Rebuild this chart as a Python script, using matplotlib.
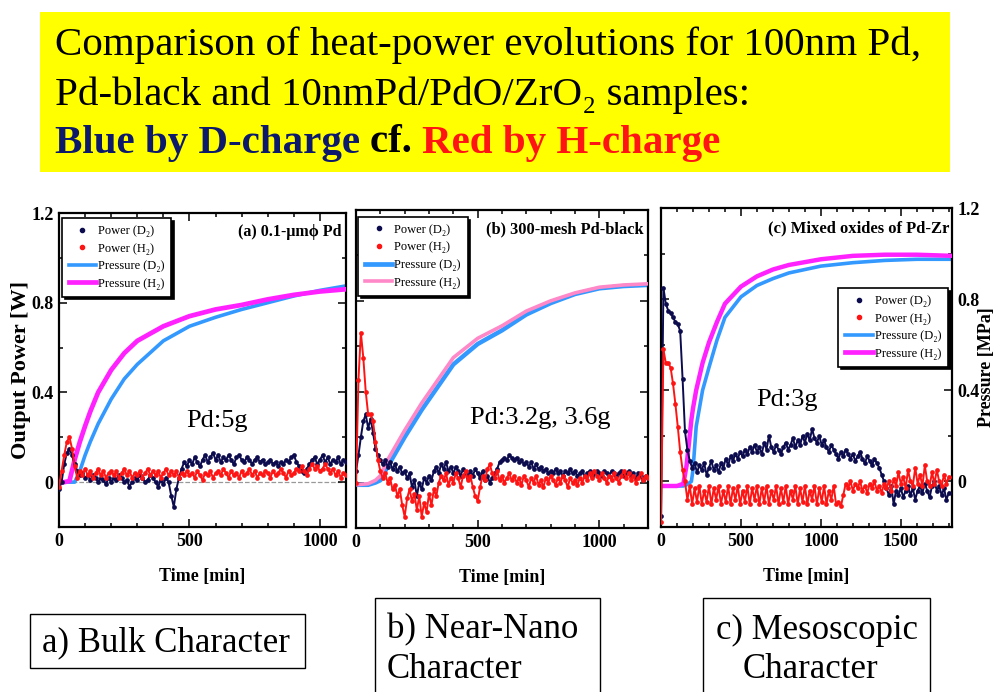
import numpy as np
import matplotlib
matplotlib.use("Agg")
import matplotlib.pyplot as plt
from matplotlib.patches import Rectangle
from matplotlib.lines import Line2D
from matplotlib.ticker import MultipleLocator

plt.rcParams['font.family'] = ['Liberation Serif', 'DejaVu Serif']

# ---------------- data ----------------
# Panel (a) 0.1-um Pd : power sampled every 10 min, 0..1100
a_step = 10
a_power_D2 = [
    -0.03, 0.0, 0.08, 0.13, 0.15, 0.12, 0.08, 0.05, 0.03, 0.04,
    0.02, 0.03, 0.01, 0.03, 0.02, 0.0, 0.02, 0.01, -0.01, 0.02,
    0.0, 0.02, 0.01, 0.03, 0.02, 0.0, 0.01, -0.02, 0.0, 0.02,
    0.01, 0.03, 0.02, 0.0, 0.01, 0.03, 0.02, 0.0, -0.02, 0.01,
    -0.01, 0.02, 0.0, -0.06, -0.11, -0.03, 0.02, 0.06, 0.09, 0.07,
    0.1, 0.08, 0.11, 0.09, 0.07, 0.1, 0.12, 0.09, 0.11, 0.13,
    0.1, 0.12, 0.09, 0.11, 0.1, 0.12, 0.1, 0.08, 0.11, 0.12,
    0.1, 0.09, 0.11, 0.1, 0.08, 0.1, 0.11, 0.09, 0.1, 0.08,
    0.09, 0.1, 0.08, 0.09, 0.07, 0.09, 0.08, 0.1, 0.09, 0.11,
    0.12, 0.09, 0.07, 0.05, 0.04, 0.06, 0.08, 0.1, 0.11, 0.08,
    0.1, 0.12, 0.09, 0.11, 0.08, 0.1, 0.09, 0.11, 0.08, 0.1, 0.09]
a_power_H2 = [
    -0.02, 0.05, 0.12, 0.18, 0.2, 0.15, 0.07, 0.02, 0.05, 0.03,
    0.06, 0.03, 0.05, 0.02, 0.04, 0.06, 0.03, 0.05, 0.02, 0.04,
    0.05, 0.03, 0.05, 0.02, 0.04, 0.06, 0.03, 0.05, 0.02, 0.04,
    0.03, 0.05, 0.02, 0.04, 0.06, 0.03, 0.05, 0.03, 0.05, 0.02,
    0.04, 0.06, 0.03, 0.05, 0.03, 0.05, 0.02, 0.04, 0.03, 0.05,
    0.03, 0.04, 0.02, 0.05, 0.03, 0.01, 0.04, 0.03, 0.05, 0.02,
    0.04, 0.05, 0.03, 0.06, 0.04, 0.02, 0.05, 0.03, 0.04, 0.02,
    0.05, 0.03, 0.04, 0.06, 0.03, 0.05, 0.02, 0.04, 0.03, 0.05,
    0.04, 0.02, 0.05, 0.03, 0.04, 0.06, 0.04, 0.02, 0.05, 0.03,
    0.04, 0.06, 0.05, 0.07, 0.05, 0.03, 0.06, 0.08, 0.06, 0.07,
    0.05, 0.06, 0.08, 0.06, 0.04, 0.06, 0.03, 0.05, 0.02, 0.04, 0.03]
a_press_t = [0, 20, 40, 60, 80, 100, 120, 150, 200, 250, 300, 400, 500, 600, 700, 800, 900, 1000, 1100]
a_press_H2 = [0.0, 0.0, 0.005, 0.10, 0.18, 0.25, 0.315, 0.40, 0.50, 0.575, 0.63, 0.695, 0.74, 0.77, 0.79, 0.815, 0.835, 0.85, 0.86]
a_press_D2 = [0.0, 0.0, 0.0, 0.0, 0.05, 0.12, 0.18, 0.26, 0.37, 0.46, 0.525, 0.63, 0.695, 0.735, 0.77, 0.80, 0.83, 0.855, 0.875]

# Panel (b) 300-mesh Pd-black : power every 10 min, 0..1200
b_step = 10
b_power_D2 = [
    0.05, 0.12, 0.2, 0.27, 0.3, 0.24, 0.28, 0.22, 0.15, 0.12,
    0.1, 0.08, 0.1, 0.07, 0.09, 0.06, 0.08, 0.05, 0.07, 0.04,
    0.05, 0.02, 0.04, -0.02, 0.01, -0.06, 0.0, -0.03, 0.02, 0.0,
    0.03, 0.01, 0.05, 0.07, 0.04, 0.08, 0.06, 0.09, 0.05, 0.07,
    0.04, 0.07, 0.05, 0.03, 0.06, 0.04, 0.02, 0.05, 0.03, 0.06,
    0.04, 0.02, 0.05, 0.01, 0.03, 0.0, 0.02, 0.04, 0.06, 0.09,
    0.1, 0.11, 0.1, 0.12, 0.11, 0.1, 0.11, 0.09, 0.1, 0.08,
    0.09, 0.07, 0.09, 0.06, 0.08, 0.06, 0.07, 0.05, 0.06, 0.04,
    0.05, 0.04, 0.06, 0.04, 0.05, 0.03, 0.05, 0.04, 0.06, 0.04,
    0.05, 0.03, 0.04, 0.05, 0.03, 0.04, 0.05, 0.03, 0.04, 0.05,
    0.04, 0.03, 0.05, 0.04, 0.03, 0.05, 0.04, 0.03, 0.04, 0.05,
    0.03, 0.04, 0.05, 0.03, 0.04, 0.02, 0.04, 0.03, 0.01, 0.03, 0.02]
b_power_H2 = [
    0.0, 0.45, 0.66, 0.55, 0.4, 0.3, 0.3, 0.27, 0.18, 0.1,
    0.05, 0.02, 0.04, 0.0, 0.02, -0.03, -0.01, -0.06, -0.03, -0.1,
    -0.15, -0.07, -0.03, -0.08, -0.05, -0.12, -0.06, -0.15, -0.09, -0.13,
    -0.05, -0.1, -0.03, -0.06, 0.0, 0.03, 0.01, 0.04, -0.01, 0.02,
    0.0, 0.04, 0.02, -0.02, 0.03, 0.05, 0.01, 0.03, -0.02, -0.06,
    -0.08, -0.02, 0.03, 0.01, 0.06, 0.08, 0.04, 0.02, 0.05, 0.01,
    0.03, 0.0, 0.02, 0.04, 0.01, 0.03, 0.0, 0.02, -0.01, 0.03,
    0.01, -0.02, 0.02, 0.0, 0.03, -0.01, 0.01, -0.02, 0.02, 0.0,
    0.03, 0.01, -0.01, 0.02, 0.0, 0.03, 0.01, -0.02, 0.02, 0.0,
    0.01, -0.01, 0.02, 0.0, 0.03, 0.01, 0.04, 0.02, 0.05, 0.03,
    0.01, 0.04, 0.02, 0.0, 0.03, 0.01, 0.04, 0.02, 0.0, 0.03,
    0.05, 0.02, 0.04, 0.01, 0.03, 0.0, 0.02, 0.04, 0.01, 0.03, 0.02]
b_press_t = [0, 50, 80, 100, 130, 200, 270, 400, 500, 600, 700, 800, 900, 1000, 1100, 1200]
b_press_D2 = [-0.01, -0.01, 0.0, 0.01, 0.07, 0.2, 0.32, 0.52, 0.61, 0.67, 0.74, 0.79, 0.83, 0.855, 0.865, 0.87]
b_press_H2 = [-0.01, -0.005, 0.01, 0.03, 0.1, 0.23, 0.35, 0.55, 0.635, 0.69, 0.755, 0.80, 0.835, 0.86, 0.87, 0.875]

# Panel (c) Mixed oxides of Pd-Zr : power every 15 min, 0..1800
c_step = 15
c_power_D2 = [
    -0.15, 0.85, 0.78, 0.75, 0.74, 0.72, 0.70, 0.69, 0.66, 0.45,
    0.22, 0.14, 0.09, 0.06, 0.08, 0.04, 0.07, 0.05, 0.08, 0.03,
    0.06, 0.09, 0.05, 0.07, 0.04, 0.08, 0.06, 0.1, 0.07, 0.11,
    0.09, 0.12, 0.1, 0.13, 0.11, 0.14, 0.12, 0.15, 0.13, 0.16,
    0.13, 0.15, 0.12, 0.17, 0.14, 0.2, 0.15, 0.13, 0.16, 0.14,
    0.12, 0.15, 0.17, 0.14, 0.16, 0.19, 0.15, 0.18, 0.16, 0.2,
    0.17, 0.21, 0.18, 0.23, 0.19, 0.17, 0.2, 0.16, 0.18, 0.15,
    0.13, 0.16, 0.14, 0.12, 0.1, 0.13, 0.11, 0.14, 0.12, 0.1,
    0.12, 0.09, 0.11, 0.13, 0.1, 0.08, 0.11, 0.09, 0.07, 0.1,
    0.08, 0.06, 0.03, 0.0, -0.03, -0.06, -0.02, -0.1, -0.04, -0.06,
    -0.03, -0.07, -0.04, -0.02, -0.06, -0.03, -0.08, -0.04, -0.02, -0.05,
    -0.01, -0.04, -0.07, -0.02, 0.0, -0.04, -0.02, -0.06, -0.03, -0.08, -0.05]
c_power_H2 = [
    -0.18, 0.58, 0.52, 0.52, 0.5, 0.43, 0.34, 0.24, 0.13, 0.05,
    0.0, -0.08, -0.02, -0.1, -0.03, -0.09, -0.02, -0.1, -0.04, -0.09,
    -0.02, -0.1, -0.03, -0.08, -0.02, -0.1, -0.04, -0.09, -0.02, -0.1,
    -0.03, -0.08, -0.02, -0.1, -0.04, -0.09, -0.02, -0.1, -0.03, -0.08,
    -0.02, -0.1, -0.03, -0.09, -0.02, -0.1, -0.04, -0.08, -0.02, -0.1,
    -0.03, -0.09, -0.02, -0.1, -0.04, -0.08, -0.02, -0.1, -0.03, -0.09,
    -0.02, -0.1, -0.04, -0.08, -0.02, -0.1, -0.03, -0.09, -0.02, -0.1,
    -0.04, -0.08, -0.02, -0.1, -0.09, -0.11, -0.06, -0.01, -0.03, 0.0,
    -0.04, -0.01, -0.03, 0.0, -0.04, -0.02, -0.05, -0.01, -0.03, 0.0,
    -0.04, -0.02, -0.05, -0.01, -0.03, 0.0, -0.04, 0.01, -0.02, 0.04,
    -0.01, 0.02, -0.03, 0.05, 0.0, -0.02, 0.06, -0.01, 0.03, -0.02,
    0.07, 0.0, -0.02, 0.04, -0.01, 0.05, 0.0, -0.02, 0.03, -0.01, 0.02]
c_press_t = [0, 100, 140, 160, 190, 200, 220, 260, 300, 350, 400, 500, 600, 700, 800, 1000, 1200, 1400, 1600, 1820]
c_press_H2 = [-0.02, -0.02, -0.01, 0.07, 0.27, 0.32, 0.40, 0.52, 0.61, 0.70, 0.78, 0.855, 0.90, 0.93, 0.95, 0.975, 0.99, 0.995, 0.995, 0.99]
c_press_D2 = [-0.02, -0.02, -0.02, -0.015, 0.0, 0.05, 0.24, 0.40, 0.50, 0.62, 0.72, 0.81, 0.86, 0.89, 0.915, 0.945, 0.96, 0.97, 0.975, 0.975]

x_ticks_ab = [0, 500, 1000]
x_ticks_c = [0, 500, 1000, 1500]
y_ticks = [0, 0.4, 0.8, 1.2]
y_ticklabels = ["0", "0.4", "0.8", "1.2"]

NAVY = '#0b0b4e'
RED = '#ff1414'
BLUE = '#3399ff'
MAGENTA = '#ff22ff'
PINK = '#ff88c8'
SERIF = ['Liberation Serif', 'DejaVu Serif']

fig = plt.figure(figsize=(9.98, 6.92), dpi=100)
W, H = 998.0, 692.0

def fx(px):
    return px / W

def fy(py):
    return 1 - py / H

# ---------------- header ----------------
fig.patches.append(Rectangle((fx(40), fy(172)), fx(950) - fx(40), fy(12) - fy(172),
                             transform=fig.transFigure, facecolor='#ffff00',
                             edgecolor='none', zorder=0))
fig.text(fx(55), fy(45), "Comparison of heat-power evolutions for 100nm Pd,",
         fontsize=29.5, va='center', ha='left')
fig.text(fx(55), fy(95), "Pd-black and 10nmPd/PdO/ZrO\u2082 samples:",
         fontsize=29.5, va='center', ha='left')

parts = [("Blue by D-charge ", '#0d1a6b'), ("cf. ", 'black'), ("Red by H-charge", RED)]
fig.canvas.draw()
renderer = fig.canvas.get_renderer()
xpos = fx(55)
for s, col in parts:
    t = fig.text(xpos, fy(143), s, fontsize=29.5, fontweight='bold', color=col,
                 va='center', ha='left')
    bb = t.get_window_extent(renderer=renderer)
    xpos = fig.transFigure.inverted().transform((bb.x1, 0))[0]

# ---------------- panels ----------------
def make_axes(rect):
    ax = fig.add_axes(rect)
    for sp in ax.spines.values():
        sp.set_linewidth(1.6)
    ax.tick_params(which='both', direction='in', top=True, right=True,
                   left=True, bottom=True, width=1.1)
    ax.tick_params(which='major', length=6, pad=4)
    ax.tick_params(which='minor', length=3)
    ax.set_ylim(-0.2, 1.2)
    ax.yaxis.set_minor_locator(MultipleLocator(0.2))
    ax.xaxis.set_minor_locator(MultipleLocator(100))
    return ax

def power(ax, step, vals, col):
    t = np.arange(len(vals)) * step
    ax.plot(t, vals, color=col, lw=1.4, marker='o', ms=3.4, mew=0, zorder=4)

axes_rects = [
    [fx(59), fy(527), fx(346) - fx(59), fy(213) - fy(527)],
    [fx(356), fy(528), fx(648) - fx(356), fy(210) - fy(528)],
    [fx(661), fy(527), fx(952) - fx(661), fy(208) - fy(527)],
]

ax_a = make_axes(axes_rects[0])
ax_b = make_axes(axes_rects[1])
ax_c = make_axes(axes_rects[2])

# panel a
ax_a.axhline(0, color='#999999', lw=0.9, ls='--', zorder=1)
ax_a.plot(a_press_t, a_press_D2, color=BLUE, lw=2.6, zorder=2)
ax_a.plot(a_press_t, a_press_H2, color=MAGENTA, lw=3.4, zorder=3)
power(ax_a, a_step, a_power_D2, NAVY)
power(ax_a, a_step, a_power_H2, RED)
ax_a.set_xlim(0, 1100)

# panel b
ax_b.plot(b_press_t, b_press_D2, color=BLUE, lw=3.2, zorder=2)
ax_b.plot(b_press_t, b_press_H2, color=PINK, lw=2.6, zorder=3)
power(ax_b, b_step, b_power_D2, NAVY)
power(ax_b, b_step, b_power_H2, RED)
ax_b.set_xlim(0, 1200)

# panel c
ax_c.plot(c_press_t, c_press_D2, color=BLUE, lw=2.6, zorder=2)
ax_c.plot(c_press_t, c_press_H2, color=MAGENTA, lw=3.2, zorder=3)
power(ax_c, c_step, c_power_D2, NAVY)
power(ax_c, c_step, c_power_H2, RED)
ax_c.set_xlim(0, 1820)

tick_font = dict(fontsize=13, fontweight='bold', family=SERIF)
for ax, xt in [(ax_a, x_ticks_ab), (ax_b, x_ticks_ab), (ax_c, x_ticks_c)]:
    ax.set_xticks(xt)
    ax.set_xticklabels([str(v) for v in xt], **tick_font)
    ax.set_yticks(y_ticks)
    ax.set_xlabel("Time [min]", fontsize=13, fontweight='bold', labelpad=13)

ax_a.set_yticklabels(y_ticklabels, **tick_font)
ax_a.set_ylabel("Output Power [W]", fontsize=16, fontweight='bold')
ax_a.yaxis.set_label_coords((31 - 59) / 287.0, 0.5)
ax_b.tick_params(labelleft=False)
ax_c.set_yticklabels(y_ticklabels, **tick_font)
ax_c.tick_params(labelleft=False, labelright=True)
ax_c.yaxis.set_label_position('right')
ax_c.set_ylabel("Pressure [MPa]", fontsize=13, fontweight='bold')
ax_c.yaxis.set_label_coords((978 - 661) / 291.0, 0.5)

# panel titles
ax_a.text(0.985, 0.94, "(a) 0.1-\u03bcm\u03d5 Pd", transform=ax_a.transAxes,
          ha='right', va='center', fontsize=11.5, fontweight='bold')
ax_b.text(0.985, 0.94, "(b) 300-mesh Pd-black", transform=ax_b.transAxes,
          ha='right', va='center', fontsize=11.8, fontweight='bold')
ax_c.text(0.99, 0.935, "(c) Mixed oxides of Pd-Zr", transform=ax_c.transAxes,
          ha='right', va='center', fontsize=12, fontweight='bold')

# sample mass annotations
fig.text(fx(217), fy(421), "Pd:5g", fontsize=19, ha='center', va='center')
fig.text(fx(540), fy(418), "Pd:3.2g, 3.6g", fontsize=19, ha='center', va='center')
fig.text(fx(787), fy(400), "Pd:3g", fontsize=19, ha='center', va='center')

# legends
def legend(ax, press_h2_col, lw_d, lw_h, loc, anchor):
    handles = [
        Line2D([], [], color=NAVY, marker='o', ls='none', ms=3),
        Line2D([], [], color=RED, marker='o', ls='none', ms=3),
        Line2D([], [], color=BLUE, lw=lw_d),
        Line2D([], [], color=press_h2_col, lw=lw_h),
    ]
    labels = ["Power (D\u2082)", "Power (H\u2082)", "Pressure (D\u2082)", "Pressure (H\u2082)"]
    lg = ax.legend(handles, labels, loc=loc, bbox_to_anchor=anchor,
                   prop={'size': 9, 'family': SERIF}, frameon=True, fancybox=False,
                   shadow={'color': 'black', 'alpha': 1.0}, framealpha=1,
                   edgecolor='black', borderpad=0.55, labelspacing=0.45,
                   handlelength=2.2, handletextpad=0.15, borderaxespad=0)
    lg.get_frame().set_linewidth(1.2)
    lg.set_zorder(10)

legend(ax_a, MAGENTA, 2.6, 3.4, 'upper left', (0.01, 0.984))
legend(ax_b, PINK, 3.4, 2.6, 'upper left', (0.007, 0.978))
legend(ax_c, MAGENTA, 2.6, 3.4, 'upper right', (0.986, 0.749))

# ---------------- bottom captions ----------------
def box(x0, x1, y0, y1):
    fig.patches.append(Rectangle((fx(x0), fy(y1)), fx(x1) - fx(x0), fy(y0) - fy(y1),
                                 transform=fig.transFigure, facecolor='white',
                                 edgecolor='black', lw=1.0, zorder=1))

box(30, 305, 614, 668)
box(375, 600, 598, 720)
box(703, 930, 598, 720)
fig.text(fx(166), fy(643), "a) Bulk Character", fontsize=25, ha='center', va='center')
fig.text(fx(387), fy(630), "b) Near-Nano", fontsize=25, ha='left', va='center')
fig.text(fx(387), fy(670), "Character", fontsize=25, ha='left', va='center')
fig.text(fx(817), fy(630), "c) Mesoscopic", fontsize=25, ha='center', va='center')
fig.text(fx(810), fy(670), "Character", fontsize=25, ha='center', va='center')

fig.savefig("out.png", dpi=100)
